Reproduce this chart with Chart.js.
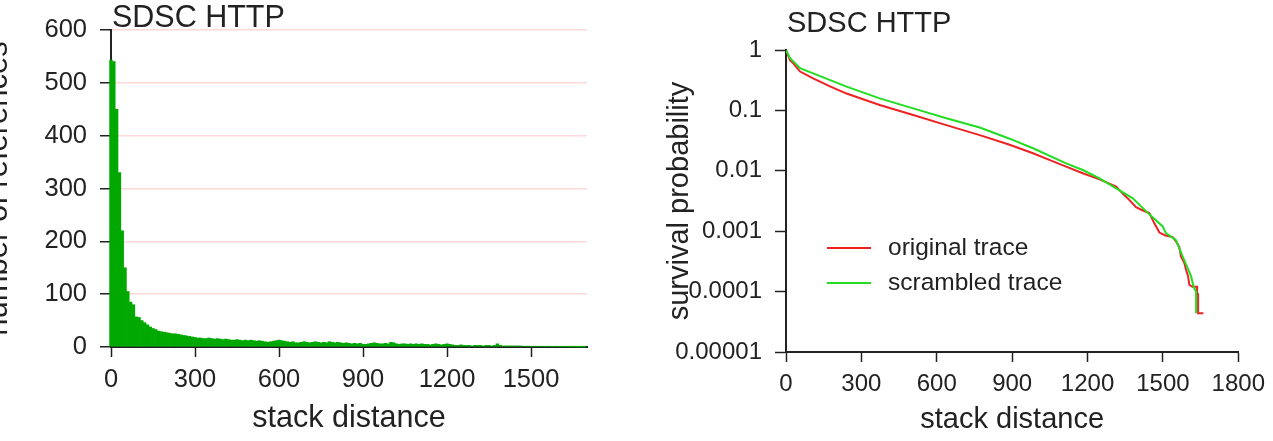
<!DOCTYPE html>
<html>
<head>
<meta charset="utf-8">
<title>SDSC HTTP stack distance</title>
<script src="https://cdn.jsdelivr.net/npm/chart.js@4.4.1/dist/chart.umd.min.js"></script>
<style>
    html, body { margin: 0; padding: 0; background: #fff; overflow: hidden; }
    body { width: 1273px; height: 441px; position: relative; }
    .panel { position: absolute; top: 0; height: 441px; }
    #hist-wrap { left: -20px; width: 660px; }
    #surv-wrap { left: 640px; width: 633px; }
</style>
</head>
<body>
<div class="panel" id="hist-wrap"><canvas id="histChart"></canvas></div>
<div class="panel" id="surv-wrap"><canvas id="survChart"></canvas></div>

<script>
// --- Data: left panel (histogram, bins of 10 starting at 0) ---
const histBinWidth = 10;
const histCounts = [
    543, 540, 450, 330, 220, 150, 105, 85, 80, 57, 56, 50, 46, 42, 38, 35, 33, 30, 29, 28, 27, 26, 25, 25, 24, 23, 22, 21, 20, 19,
    18, 17, 17, 16, 16, 17, 16, 15, 16, 15, 14, 15, 14, 13, 13, 14, 13, 12, 13, 12, 13, 12, 11, 12, 11, 10, 9, 10, 11, 12,
    13, 12, 11, 10, 9, 10, 8, 8, 9, 10, 9, 8, 9, 10, 9, 8, 9, 8, 10, 9, 8, 9, 8, 7, 8, 7, 6, 7, 6, 7,
    5, 5, 6, 7, 8, 7, 6, 6, 7, 6, 9, 8, 6, 5, 6, 6, 5, 6, 5, 6, 5, 6, 5, 5, 4, 5, 6, 5, 4, 5,
    6, 5, 4, 3, 3, 4, 3, 3, 3, 2, 3, 3, 3, 2, 3, 3, 2, 3, 6, 3, 2, 2, 2, 2, 2, 2, 2, 1.5, 1.5, 1.5,
    1, 1, 1, 1, 1, 0.8, 1, 0.8, 0.6, 0.8, 0.6, 0.5, 0.5, 0.5, 0.3, 0.3, 0.2, 0.2, 0.1, 0.1
];
const histXTicks = [0, 300, 600, 900, 1200, 1500];
const histYTicks = [0, 100, 200, 300, 400, 500, 600];

// --- Data: right panel (survival curves) ---
const origDist = [0, 16, 29, 56, 108, 175, 241, 373, 506, 638, 771, 890, 983, 1050, 1115, 1181, 1248, 1314, 1340, 1366,
    1393, 1420, 1446, 1466, 1486, 1510, 1539, 1552, 1565, 1572, 1585, 1592, 1600, 1605, 1617, 1636, 1636, 1640, 1640, 1661];
const origSurv = [1, 0.68, 0.6, 0.44, 0.34, 0.25, 0.19, 0.123, 0.084, 0.057, 0.039, 0.027, 0.0195, 0.015, 0.0117, 0.0091, 0.0072, 0.0055, 0.0042, 0.0033,
    0.0025, 0.0022, 0.002, 0.00135, 0.00095, 0.00085, 0.0008, 0.00068, 0.00055, 0.00038, 0.0003, 0.00023, 0.00018, 0.00013, 0.00012, 0.00012, 0.00009, 0.00009, 0.000044, 0.000044];
const scramDist = [0, 16, 56, 108, 241, 373, 506, 638, 771, 890, 983, 1115, 1181, 1248, 1314, 1380, 1446, 1499, 1512, 1552,
    1585, 1612, 1622, 1632, 1632];
const scramSurv = [1, 0.73, 0.5, 0.41, 0.247, 0.158, 0.108, 0.074, 0.052, 0.034, 0.0236, 0.0133, 0.0103, 0.0075, 0.0051, 0.0035, 0.0019, 0.0012, 0.00093, 0.00071,
    0.00033, 0.00018, 0.00012, 0.0001, 0.000044];
const survXTicks = [0, 300, 600, 900, 1200, 1500, 1800];
const survYTicks = [0.00001, 0.0001, 0.001, 0.01, 0.1, 1];
const survYLabels = ['0.00001', '0.0001', '0.001', '0.01', '0.1', '1'];

const ink = '#222';
Chart.defaults.font.family = '"Liberation Sans", Arial, sans-serif';
Chart.defaults.color = ink;

// plain numbers, no thousands separator
const plain = v => String(v);

// --- Plugins ---
// panel title drawn at the top left corner of the plot area
const panelTitle = {
    id: 'panelTitle',
    afterDraw(chart, args, opts) {
        const { ctx, chartArea } = chart;
        ctx.save();
        ctx.font = opts.size + 'px "Liberation Sans", Arial, sans-serif';
        ctx.fillStyle = ink;
        ctx.textBaseline = 'alphabetic';
        ctx.fillText(opts.text, chartArea.left + 1, opts.baseline);
        ctx.restore();
    }
};

// small legend inside the plot area (line sample + label)
const traceLegend = {
    id: 'traceLegend',
    afterDatasetsDraw(chart, args, opts) {
        const { ctx, chartArea } = chart;
        ctx.save();
        ctx.font = opts.size + 'px "Liberation Sans", Arial, sans-serif';
        ctx.textBaseline = 'middle';
        chart.data.datasets.forEach((ds, i) => {
            const y = chartArea.top + opts.top + i * opts.gap;
            ctx.strokeStyle = ds.borderColor;
            ctx.lineWidth = 2;
            ctx.beginPath();
            ctx.moveTo(chartArea.left + 41, y);
            ctx.lineTo(chartArea.left + 85, y);
            ctx.stroke();
            ctx.fillStyle = ink;
            ctx.fillText(ds.label, chartArea.left + 102, y);
        });
        ctx.restore();
    }
};

// --- 1. Histogram ---
new Chart(document.getElementById('histChart'), {
    type: 'bar',
    data: {
        datasets: [{
            label: 'number of references',
            data: histCounts.map((v, i) => ({ x: i * histBinWidth, y: v })),
            backgroundColor: '#00a800',
            borderWidth: 0,
            barPercentage: 1,
            categoryPercentage: 1,
            clip: false
        }]
    },
    options: {
        responsive: true,
        maintainAspectRatio: false,
        animation: false,
        layout: { padding: { left: 0, top: 30, right: 53, bottom: 0 } },
        plugins: {
            legend: { display: false },
            tooltip: { enabled: false },
            panelTitle: { text: 'SDSC HTTP', size: 30.5, baseline: 27 }
        },
        scales: {
            x: {
                type: 'linear',
                min: 0,
                max: 1700,
                offset: false,
                afterFit: s => { s.height = 94; },
                afterBuildTicks: s => { s.ticks = histXTicks.map(v => ({ value: v })); },
                grid: { offset: false, drawOnChartArea: false, tickLength: 10, tickColor: ink, tickWidth: 1.5 },
                border: { color: ink, width: 2 },
                ticks: { font: { size: 25.5 }, padding: 8, maxRotation: 0, autoSkip: false, callback: plain },
                title: { display: true, text: 'stack distance', font: { size: 30.5 }, padding: { top: 0, bottom: 4 } }
            },
            y: {
                min: 0,
                max: 600,
                afterFit: s => { s.width = 131; },
                afterBuildTicks: s => { s.ticks = histYTicks.map(v => ({ value: v })); },
                grid: {
                    color: c => (c.tick && c.tick.value === 0) ? 'rgba(0,0,0,0)' : '#ffd8d8',
                    lineWidth: 1.5,
                    tickLength: 11,
                    tickColor: ink,
                    tickWidth: 1.5
                },
                border: { color: ink, width: 2 },
                ticks: { font: { size: 25.5 }, padding: 13, callback: plain },
                title: { display: true, text: 'number of references', font: { size: 31 }, padding: 0 }
            }
        }
    },
    plugins: [panelTitle]
});

// --- 2. Survival curves (log scale) ---
new Chart(document.getElementById('survChart'), {
    type: 'line',
    data: {
        datasets: [
            {
                label: 'original trace',
                data: origDist.map((d, i) => ({ x: d, y: origSurv[i] })),
                borderColor: '#ee2222',
                borderWidth: 2,
                pointRadius: 0,
                tension: 0,
                order: 2
            },
            {
                label: 'scrambled trace',
                data: scramDist.map((d, i) => ({ x: d, y: scramSurv[i] })),
                borderColor: '#22dd22',
                borderWidth: 2,
                pointRadius: 0,
                tension: 0,
                order: 1
            }
        ]
    },
    options: {
        responsive: true,
        maintainAspectRatio: false,
        animation: false,
        layout: { padding: { left: 0, top: 50, right: 34, bottom: 0 } },
        plugins: {
            legend: { display: false },
            tooltip: { enabled: false },
            panelTitle: { text: 'SDSC HTTP', size: 29, baseline: 32 },
            traceLegend: { size: 24.5, top: 198, gap: 35 }
        },
        scales: {
            x: {
                type: 'linear',
                min: 0,
                max: 1800,
                afterFit: s => { s.height = 89; },
                afterBuildTicks: s => { s.ticks = survXTicks.map(v => ({ value: v })); },
                grid: { drawOnChartArea: false, tickLength: 10, tickColor: ink, tickWidth: 1.5 },
                border: { color: ink, width: 2 },
                ticks: { font: { size: 24 }, padding: 8, maxRotation: 0, autoSkip: false, callback: plain },
                title: { display: true, text: 'stack distance', font: { size: 29 }, padding: { top: 0, bottom: 4 } }
            },
            y: {
                type: 'logarithmic',
                min: 0.00001,
                max: 1,
                afterFit: s => { s.width = 146; },
                afterBuildTicks: s => { s.ticks = survYTicks.map(v => ({ value: v })); },
                grid: { drawOnChartArea: false, tickLength: 11, tickColor: ink, tickWidth: 1.5 },
                border: { color: ink, width: 2 },
                ticks: {
                    font: { size: 24 },
                    padding: 13,
                    autoSkip: false,
                    callback: v => survYLabels[survYTicks.indexOf(v)]
                },
                title: { display: true, text: 'survival probability', font: { size: 29 }, padding: { top: 23, bottom: 0 } }
            }
        }
    },
    plugins: [panelTitle, traceLegend]
});
</script>
</body>
</html>
